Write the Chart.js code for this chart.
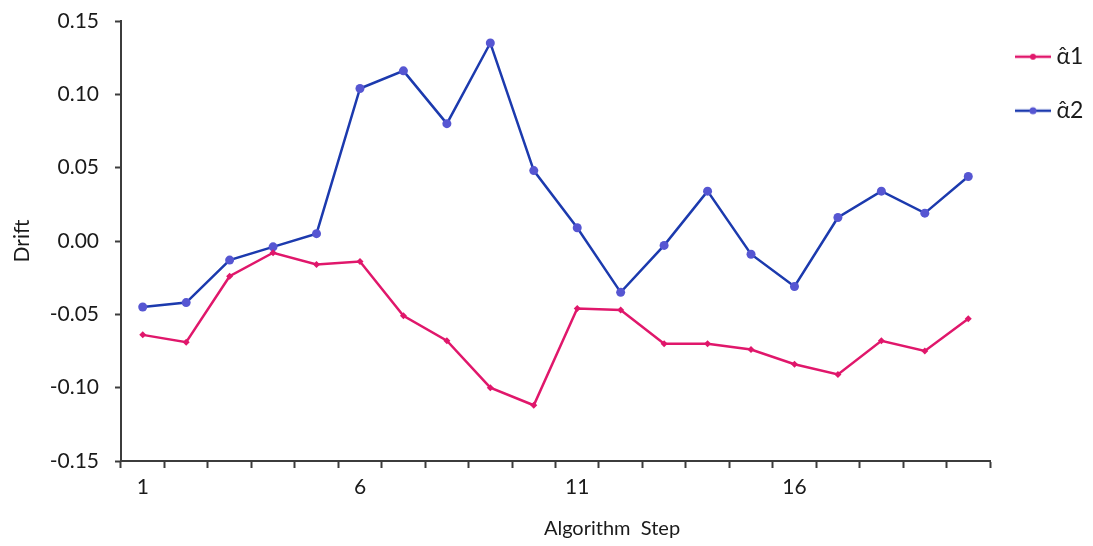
<!DOCTYPE html>
<html>
<head>
<meta charset="utf-8">
<script src="https://cdn.jsdelivr.net/npm/chart.js@4"></script>
<style>
  html, body { margin: 0; padding: 0; background: #fff; }
  #wrap { width: 1093px; height: 546px; }
</style>
</head>
<body>
<div id="wrap"><canvas id="driftChart" width="1093" height="546"></canvas></div>
<script>
// ===== Drift per algorithm step =====

const steps = [1, 2, 3, 4, 5, 6, 7, 8, 9, 10, 11, 12, 13, 14, 15, 16, 17, 18, 19, 20];

const alpha1 = [-0.064, -0.069, -0.024, -0.008, -0.016, -0.014, -0.051, -0.068, -0.100, -0.112,
                -0.046, -0.047, -0.070, -0.070, -0.074, -0.084, -0.091, -0.068, -0.075, -0.053];

const alpha2 = [-0.045, -0.042, -0.013, -0.004, 0.005, 0.104, 0.116, 0.080, 0.135, 0.048,
                0.009, -0.035, -0.003, 0.034, -0.009, -0.031, 0.016, 0.034, 0.019, 0.044];

const yTicks = [-0.15, -0.10, -0.05, 0.00, 0.05, 0.10, 0.15];

const seriesNames = ['\u03B1\u0302' + '1', '\u03B1\u0302' + '2'];

const pinkLine = '#E0176B';
const blueLine = '#1C3AAE';
const blueDot = '#5656D2';
const axisColor = '#3c3c3c';
const textColor = '#1a1a1a';
const FONT = 'Lato, "Open Sans", sans-serif';

// legend swatch: short line with a dot in the middle
function legendSwatch(lineColor, dotColor, r) {
    const c = document.createElement('canvas');
    c.width = 36;
    c.height = 12;
    const g = c.getContext('2d');
    g.strokeStyle = lineColor;
    g.lineWidth = 2.5;
    g.beginPath();
    g.moveTo(0, 6);
    g.lineTo(36, 6);
    g.stroke();
    g.fillStyle = dotColor;
    g.beginPath();
    g.arc(18, 6, r, 0, Math.PI * 2);
    g.fill();
    return c;
}

const swatches = [legendSwatch(pinkLine, pinkLine, 3), legendSwatch(blueLine, blueDot, 3.5)];

// keep the legend column a fixed width so the plot ends where the original does
const legendWidthPlugin = {
    id: 'legendWidth',
    afterInit(chart) {
        const legend = chart.legend;
        const fit = legend.fit;
        legend.fit = function() {
            fit.call(this);
            this.width = 103;
        };
    }
};

// x axis title sits a bit right of centre in the original
const xTitlePlugin = {
    id: 'xTitle',
    afterDraw(chart) {
        const ctx = chart.ctx;
        ctx.save();
        ctx.font = '20px ' + FONT;
        ctx.fillStyle = textColor;
        ctx.textAlign = 'center';
        ctx.textBaseline = 'middle';
        ctx.fillText('Algorithm  Step', 612, 529);
        ctx.restore();
    }
};

new Chart(document.getElementById('driftChart').getContext('2d'), {
    type: 'line',
    data: {
        labels: steps,
        datasets: [{
            label: seriesNames[0],
            data: alpha1,
            borderColor: pinkLine,
            backgroundColor: pinkLine,
            borderWidth: 2.5,
            pointStyle: 'rectRot',
            pointRadius: 3.5,
            pointBorderWidth: 0,
            tension: 0
        }, {
            label: seriesNames[1],
            data: alpha2,
            borderColor: blueLine,
            backgroundColor: blueDot,
            borderWidth: 2.5,
            pointStyle: 'circle',
            pointRadius: 4.5,
            pointBorderWidth: 0,
            tension: 0
        }]
    },
    options: {
        responsive: false,
        animation: false,
        devicePixelRatio: 1,
        layout: { padding: 0 },
        plugins: {
            legend: {
                position: 'right',
                align: 'start',
                title: {
                    display: true,
                    text: '',
                    font: { size: 1 },
                    padding: { top: 13, bottom: 0 }
                },
                labels: {
                    usePointStyle: true,
                    pointStyleWidth: 24,
                    padding: 31,
                    color: textColor,
                    font: { family: FONT, size: 23 },
                    generateLabels(chart) {
                        return chart.data.datasets.map((ds, i) => ({
                            text: ds.label,
                            pointStyle: swatches[i],
                            fillStyle: ds.borderColor,
                            strokeStyle: ds.borderColor,
                            lineWidth: 0,
                            fontColor: textColor,
                            datasetIndex: i
                        }));
                    }
                }
            },
            tooltip: { enabled: false }
        },
        scales: {
            x: {
                type: 'category',
                offset: true,
                grid: {
                    offset: true,
                    drawOnChartArea: false,
                    drawTicks: true,
                    tickLength: 7,
                    tickWidth: 2,
                    tickColor: axisColor
                },
                border: { color: axisColor, width: 2 },
                ticks: {
                    autoSkip: false,
                    maxRotation: 0,
                    padding: 7,
                    color: textColor,
                    font: { family: FONT, size: 21 },
                    callback: function(val, index) {
                        return index % 5 === 0 ? this.getLabelForValue(val) : '';
                    }
                },
                afterFit(scale) { scale.height = 85; }
            },
            y: {
                min: -0.15,
                max: 0.15,
                afterBuildTicks(scale) {
                    scale.ticks = yTicks.map(v => ({ value: v }));
                },
                grid: {
                    drawOnChartArea: false,
                    drawTicks: true,
                    tickLength: 6,
                    tickWidth: 2,
                    tickColor: axisColor
                },
                border: { color: axisColor, width: 2 },
                ticks: {
                    padding: 16,
                    color: textColor,
                    font: { family: FONT, size: 21 },
                    callback: v => v.toFixed(2)
                },
                title: {
                    display: true,
                    text: 'Drift',
                    color: textColor,
                    font: { family: FONT, size: 21 },
                    padding: { top: 10, bottom: 0 }
                },
                afterFit(scale) {
                    scale.width = 121;
                    scale.paddingTop = 21;
                    scale.paddingBottom = 0;
                }
            }
        }
    },
    plugins: [legendWidthPlugin, xTitlePlugin]
});
</script>
</body>
</html>
